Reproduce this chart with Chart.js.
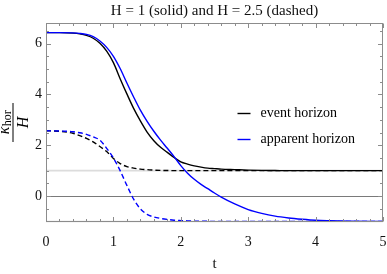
<!DOCTYPE html>
<html><head><meta charset="utf-8">
<script src="https://cdn.jsdelivr.net/npm/chart.js@4/dist/chart.umd.min.js"></script>
<style>html,body{margin:0;padding:0;background:#fff}#wrap{width:387px;height:274px}</style>
</head><body><div id="wrap"><canvas id="c" width="387" height="274"></canvas></div>
<script>
// ---- data ----
const tValues     = [0, 0.2, 0.4, 0.5, 0.6, 0.7, 0.8, 0.9, 1.0, 1.1, 1.2, 1.3, 1.4, 1.5, 1.6, 1.7, 1.8, 1.9, 2.0, 2.1, 2.2, 2.3, 2.4, 2.5, 2.6, 2.8, 3.0, 3.2, 3.4, 3.6, 3.8, 4.0, 4.2, 4.5, 5.0];
const eventH1     = [6.43, 6.43, 6.41, 6.38, 6.32, 6.21, 6.01, 5.7, 5.25, 4.62, 4.02, 3.45, 2.96, 2.52, 2.18, 1.92, 1.72, 1.52, 1.35, 1.26, 1.19, 1.14, 1.1, 1.08, 1.06, 1.04, 1.02, 1.01, 1.005, 1.0, 1.0, 1.0, 1.0, 1.0, 1.0];
const apparentH1  = [6.43, 6.43, 6.42, 6.4, 6.36, 6.27, 6.1, 5.85, 5.5, 5.02, 4.45, 3.9, 3.38, 2.94, 2.55, 2.2, 1.88, 1.55, 1.2, 0.9, 0.66, 0.46, 0.29, 0.12, -0.04, -0.31, -0.53, -0.68, -0.79, -0.86, -0.91, -0.95, -0.97, -0.99, -1.0];
const eventH25    = [2.57, 2.55, 2.47, 2.38, 2.27, 2.13, 1.95, 1.75, 1.48, 1.28, 1.16, 1.1, 1.06, 1.04, 1.02, 1.01, 1.005, 1.0, 1.0, 1.0, 1.0, 1.0, 1.0, 1.0, 1.0, 1.0, 1.0, 1.0, 1.0, 1.0, 1.0, 1.0, 1.0, 1.0, 1.0];
const apparentH25 = [2.57, 2.56, 2.53, 2.49, 2.43, 2.33, 2.2, 1.88, 1.5, 1.0, 0.42, -0.12, -0.5, -0.72, -0.82, -0.88, -0.92, -0.95, -0.965, -0.975, -0.985, -0.99, -0.993, -0.995, -0.997, -1.0, -1.0, -1.0, -1.0, -1.0, -1.0, -1.0, -1.0, -1.0, -1.0];
const xTicks = [0, 1, 2, 3, 4, 5];
const yTicks = [0, 2, 4, 6];
const refLines = [1, -1];
const legendLabels = ['event horizon', 'apparent horizon'];
const titleText = 'H = 1 (solid) and H = 2.5 (dashed)';
const xTitle = 't';

const SERIF = '"Liberation Serif", "Times New Roman", serif';
const BLUE = '#0000ff', BLACK = '#000000';
const pts = arr => tValues.map((t, i) => ({x: t, y: arr[i]}));

const framePlugin = {
  id: 'frame',
  beforeDatasetsDraw(chart) {
    const {ctx, chartArea: a, scales: {x, y}} = chart;
    ctx.save();
    ctx.lineWidth = 1.6; ctx.strokeStyle = '#dcdcdc';
    refLines.forEach(v => { const py = y.getPixelForValue(v); ctx.beginPath(); ctx.moveTo(a.left, py); ctx.lineTo(a.right, py); ctx.stroke(); });
    ctx.lineWidth = 1; ctx.strokeStyle = '#7a7a7a';
    const p0 = Math.round(y.getPixelForValue(0)) + 0.5;
    ctx.beginPath(); ctx.moveTo(a.left, p0); ctx.lineTo(a.right, p0); ctx.stroke();
    ctx.restore();
  },
  afterDatasetsDraw(chart) {
    const {ctx, chartArea: a, scales: {x, y}} = chart;
    ctx.save();
    ctx.strokeStyle = '#8c8c8c'; ctx.lineWidth = 1;
    const L = Math.round(a.left) + 0.5, R = Math.round(a.right) - 0.5, T = Math.round(a.top) + 0.5, B = Math.round(a.bottom) - 0.5;
    ctx.strokeRect(L, T, R - L, B - T);
    ctx.beginPath();
    for (let v = 0; v <= 5.0001; v += 0.2) {
      const major = Math.abs(v - Math.round(v)) < 1e-6;
      const len = major ? 4.5 : 2.5;
      const px = Math.round(x.getPixelForValue(v)) + 0.5;
      ctx.moveTo(px, B); ctx.lineTo(px, B - len);
      ctx.moveTo(px, T); ctx.lineTo(px, T + len);
    }
    for (let v = -1; v <= 6.5001; v += 0.5) {
      const major = Math.abs(v / 2 - Math.round(v / 2)) < 1e-6;
      const len = major ? 4.5 : 2.5;
      const py = Math.round(y.getPixelForValue(v)) + 0.5;
      ctx.moveTo(L, py); ctx.lineTo(L + len, py);
      ctx.moveTo(R, py); ctx.lineTo(R - len, py);
    }
    ctx.stroke();
    ctx.restore();
  },
  afterDraw(chart) {
    const {ctx} = chart;
    ctx.save();
    // legend
    const colors = [BLACK, BLUE];
    ctx.font = '14px ' + SERIF; ctx.textBaseline = 'middle'; ctx.textAlign = 'left';
    legendLabels.forEach((lab, i) => {
      const yy = 113.5 + 26 * i;
      ctx.strokeStyle = colors[i]; ctx.lineWidth = 1.4;
      ctx.beginPath(); ctx.moveTo(237.5, yy); ctx.lineTo(250.5, yy); ctx.stroke();
      ctx.fillStyle = '#000'; ctx.fillText(lab, 260.5, yy);
    });
    // y-axis label: kappa_hor / H
    ctx.translate(12.5, 122.5);
    ctx.rotate(-Math.PI / 2);
    ctx.fillStyle = '#000'; ctx.strokeStyle = '#000'; ctx.lineWidth = 1;
    ctx.beginPath(); ctx.moveTo(-19.5, 0.5); ctx.lineTo(19.5, 0.5); ctx.stroke();
    ctx.textBaseline = 'alphabetic';
    ctx.font = 'italic 16px ' + SERIF;
    const kW = ctx.measureText('κ').width;
    ctx.font = '12px ' + SERIF;
    const hW = ctx.measureText('hor').width;
    const start = -(kW + hW) / 2;
    ctx.font = 'italic 16px ' + SERIF;
    ctx.fillText('κ', start, -4);
    ctx.font = '12px ' + SERIF;
    ctx.fillText('hor', start + kW + 0.5, -1.5);
    ctx.font = 'italic 16px ' + SERIF;
    ctx.textAlign = 'center';
    ctx.fillText('H', 0, 15);
    ctx.restore();
  }
};

new Chart(document.getElementById('c'), {
  type: 'line',
  data: {
    datasets: [
      {label: 'apparent horizon (H = 1)', data: pts(apparentH1), borderColor: BLUE, order: 0},
      {label: 'apparent horizon (H = 2.5)', data: pts(apparentH25), borderColor: BLUE, borderDash: [5, 3], order: 1},
      {label: 'event horizon (H = 1)', data: pts(eventH1), borderColor: BLACK, order: 2},
      {label: 'event horizon (H = 2.5)', data: pts(eventH25), borderColor: BLACK, borderDash: [5, 3], order: 3}
    ].map(d => Object.assign({borderWidth: 1.4, pointRadius: 0, fill: false, cubicInterpolationMode: 'monotone'}, d))
  },
  options: {
    responsive: false, animation: false, devicePixelRatio: 1,
    layout: {padding: {top: 0, right: 4, left: 0, bottom: 0}},
    plugins: {
      legend: {display: false}, tooltip: {enabled: false},
      title: {display: true, text: titleText, fullSize: false, color: '#111',
        font: {family: SERIF, size: 15, weight: 'normal'}, padding: {top: 2, bottom: 3}}
    },
    scales: {
      x: {
        type: 'linear', min: 0, max: 5,
        afterBuildTicks: s => { s.ticks = xTicks.map(v => ({value: v})); },
        afterFit: s => { s.height = 52; s.paddingLeft = 0; s.paddingRight = 0; },
        grid: {display: false, drawTicks: false}, border: {display: false},
        ticks: {color: '#111', font: {family: SERIF, size: 14}, padding: 12, maxRotation: 0},
        title: {display: true, text: xTitle, color: '#111', font: {family: SERIF, size: 15}, padding: {top: 0, bottom: 1}}
      },
      y: {
        type: 'linear', min: -1.02, max: 6.81,
        afterBuildTicks: s => { s.ticks = yTicks.map(v => ({value: v})); },
        afterFit: s => { s.width = 46; s.paddingTop = 0; s.paddingBottom = 0; },
        grid: {display: false, drawTicks: false}, border: {display: false},
        ticks: {color: '#111', font: {family: SERIF, size: 14}, padding: 4}
      }
    }
  },
  plugins: [framePlugin]
});
</script>
</body></html>
